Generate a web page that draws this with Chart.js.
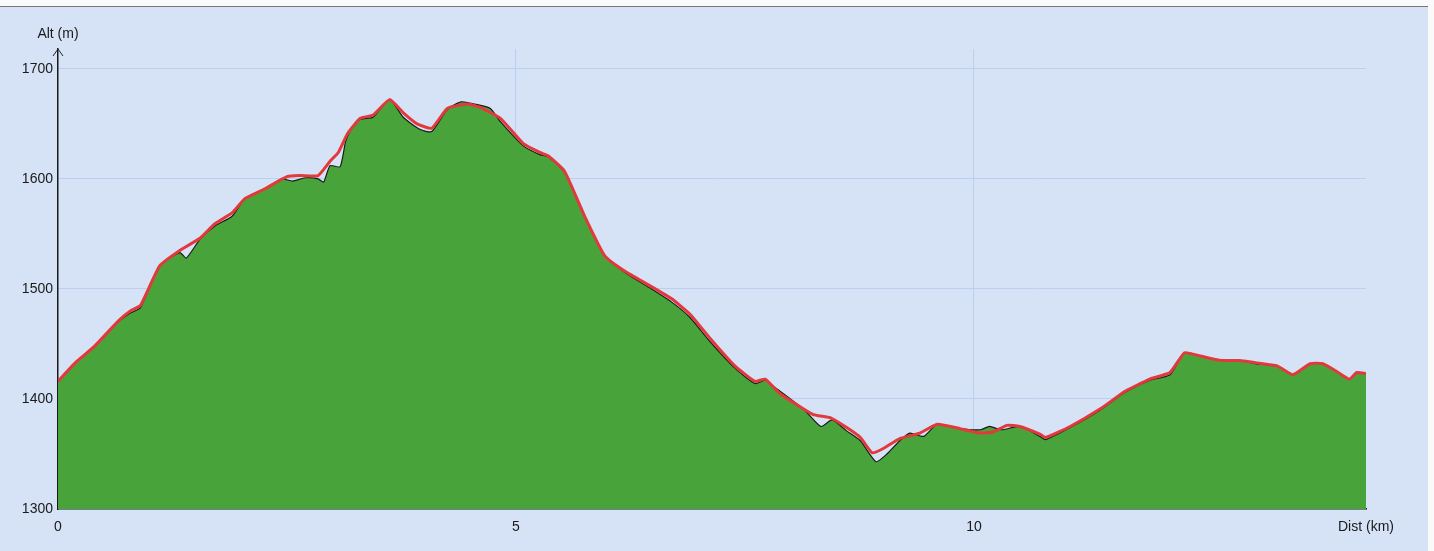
<!DOCTYPE html>
<html>
<head>
<meta charset="utf-8">
<script src="https://cdn.jsdelivr.net/npm/chart.js@4.4.1/dist/chart.umd.min.js"></script>
<style>
  html, body { margin: 0; padding: 0; background: #fafafa; }
  #wrap { position: absolute; left: 0; top: 6px; width: 1428px; height: 545px;
          background: #d6e2f6; border-top: 1px solid #777; }
</style>
</head>
<body>
<div id="wrap"><canvas id="myChart" width="1428" height="545"></canvas></div>
<script>
// smoothed profile (red)
const redDist = [0, 0.19, 0.40, 0.66, 0.79, 0.90, 1.11, 1.33, 1.55, 1.71, 1.90, 2.04, 2.26, 2.50, 2.64, 2.84, 2.97, 3.06, 3.16, 3.30, 3.44, 3.62, 3.77, 3.92, 4.08, 4.25, 4.47, 4.61, 4.83, 5.08, 5.26, 5.35, 5.53, 5.75, 5.97, 6.19, 6.46, 6.70, 6.90, 7.12, 7.39, 7.61, 7.72, 7.88, 8.24, 8.43, 8.61, 8.76, 8.89, 9.01, 9.19, 9.41, 9.60, 9.85, 10.07, 10.21, 10.36, 10.50, 10.72, 10.78, 11.05, 11.38, 11.65, 11.92, 12.14, 12.30, 12.47, 12.69, 12.90, 13.07, 13.31, 13.48, 13.67, 13.81, 13.96, 14.10, 14.18, 14.28];
const redAlt = [1416, 1433, 1448, 1471, 1480, 1485, 1521, 1535, 1546, 1559, 1569, 1582, 1591, 1602, 1603, 1603, 1616, 1624, 1641, 1655, 1658, 1672, 1660, 1650, 1646, 1664, 1668, 1665, 1655, 1632, 1624, 1621, 1607, 1566, 1530, 1516, 1503, 1491, 1477, 1455, 1430, 1416, 1418, 1405, 1386, 1383, 1374, 1365, 1351, 1355, 1364, 1369, 1377, 1373, 1369, 1370, 1376, 1375, 1368, 1365, 1375, 1391, 1407, 1418, 1424, 1442, 1439, 1435, 1435, 1433, 1430, 1422, 1432, 1432, 1425, 1418, 1424, 1423];

// raw profile (black, filled)
const rawDist = [0, 0.19, 0.40, 0.66, 0.79, 0.90, 1.11, 1.33, 1.40, 1.55, 1.71, 1.90, 2.04, 2.26, 2.44, 2.56, 2.70, 2.84, 2.90, 2.97, 3.08, 3.14, 3.20, 3.30, 3.44, 3.62, 3.77, 3.95, 4.08, 4.25, 4.40, 4.55, 4.72, 4.83, 5.08, 5.26, 5.35, 5.53, 5.75, 5.97, 6.19, 6.46, 6.70, 6.90, 7.12, 7.39, 7.61, 7.72, 7.85, 7.95, 8.15, 8.33, 8.45, 8.61, 8.76, 8.93, 9.05, 9.19, 9.30, 9.45, 9.60, 9.85, 10.07, 10.17, 10.30, 10.50, 10.72, 10.78, 11.05, 11.38, 11.65, 11.92, 12.14, 12.30, 12.47, 12.69, 12.90, 13.07, 13.31, 13.48, 13.67, 13.81, 13.96, 14.10, 14.18, 14.28];
const rawAlt = [1416, 1433, 1448, 1470, 1478, 1483, 1521, 1533, 1528, 1545, 1557, 1566, 1582, 1591, 1600, 1598, 1601, 1600, 1597, 1612, 1611, 1634, 1645, 1654, 1656, 1672, 1656, 1645, 1643, 1663, 1670, 1668, 1664, 1652, 1630, 1622, 1620, 1606, 1566, 1530, 1515, 1501, 1488, 1474, 1452, 1428, 1414, 1417, 1409, 1403, 1390, 1375, 1381, 1371, 1362, 1343, 1350, 1362, 1369, 1366, 1377, 1373, 1372, 1375, 1372, 1375, 1366, 1363, 1374, 1390, 1406, 1417, 1422, 1442, 1439, 1435, 1435, 1432, 1430, 1422, 1432, 1432, 1425, 1418, 1424, 1423];

const xTicks = [0, 5, 10, 14.28];
const xLabels = ['0', '5', '10', 'Dist (km)'];
const yTicks = [1300, 1400, 1500, 1600, 1700];

const FONT = "'Liberation Sans', Arial, sans-serif";

const axisDeco = {
  id: 'axisDeco',
  afterDraw(chart) {
    const c = chart.ctx;
    const a = chart.chartArea;
    c.save();
    c.strokeStyle = '#222';
    c.lineWidth = 1;
    c.beginPath();
    c.moveTo(a.left - 5, a.top + 7);
    c.lineTo(a.left, a.top);
    c.lineTo(a.left + 5, a.top + 7);
    c.stroke();
    c.fillStyle = '#1a1a1a';
    c.font = '14px ' + FONT;
    c.textAlign = 'center';
    c.textBaseline = 'middle';
    c.fillText('Alt (m)', a.left, a.top - 15);
    c.restore();
  }
};

const ctx = document.getElementById('myChart').getContext('2d');

new Chart(ctx, {
  type: 'line',
  data: {
    datasets: [
      {
        label: 'Smoothed',
        data: redDist.map((d, i) => ({x: d, y: redAlt[i]})),
        borderColor: '#e23a3c',
        borderWidth: 3,
        pointRadius: 0,
        fill: false,
        tension: 0.15
      },
      {
        label: 'Raw',
        data: rawDist.map((d, i) => ({x: d, y: rawAlt[i]})),
        borderColor: '#1a1a1a',
        backgroundColor: '#48a43a',
        borderWidth: 1.2,
        pointRadius: 0,
        fill: 'origin',
        tension: 0.2
      }
    ]
  },
  options: {
    responsive: false,
    animation: false,
    layout: { padding: { top: 42, right: 62, left: 0, bottom: 0 } },
    plugins: { legend: { display: false }, tooltip: { enabled: false } },
    scales: {
      x: {
        type: 'linear',
        min: 0,
        max: 14.28,
        afterBuildTicks: axis => { axis.ticks = xTicks.map(v => ({value: v})); },
        afterFit: axis => { axis.height = 43; },
        ticks: {
          autoSkip: false,
          maxRotation: 0,
          padding: 10,
          color: '#1a1a1a',
          font: { family: FONT, size: 14 },
          callback: (v, i) => xLabels[i]
        },
        grid: {
          drawTicks: false,
          color: ctx => (ctx.tick && (ctx.tick.value === 5 || ctx.tick.value === 10)) ? '#bccfee' : 'rgba(0,0,0,0)',
          lineWidth: 1
        },
        border: { color: '#1a1a1a', width: 1.5 }
      },
      y: {
        min: 1300,
        max: 1718,
        afterBuildTicks: axis => { axis.ticks = yTicks.map(v => ({value: v})); },
        afterFit: axis => { axis.width = 58; },
        ticks: {
          padding: 5,
          color: '#1a1a1a',
          font: { family: FONT, size: 14 },
          callback: v => String(v)
        },
        grid: {
          drawTicks: false,
          color: ctx => (ctx.tick && ctx.tick.value > 1300) ? '#bccfee' : 'rgba(0,0,0,0)',
          lineWidth: 1
        },
        border: { color: '#1a1a1a', width: 1.5 }
      }
    }
  },
  plugins: [axisDeco]
});
</script>
</body>
</html>
